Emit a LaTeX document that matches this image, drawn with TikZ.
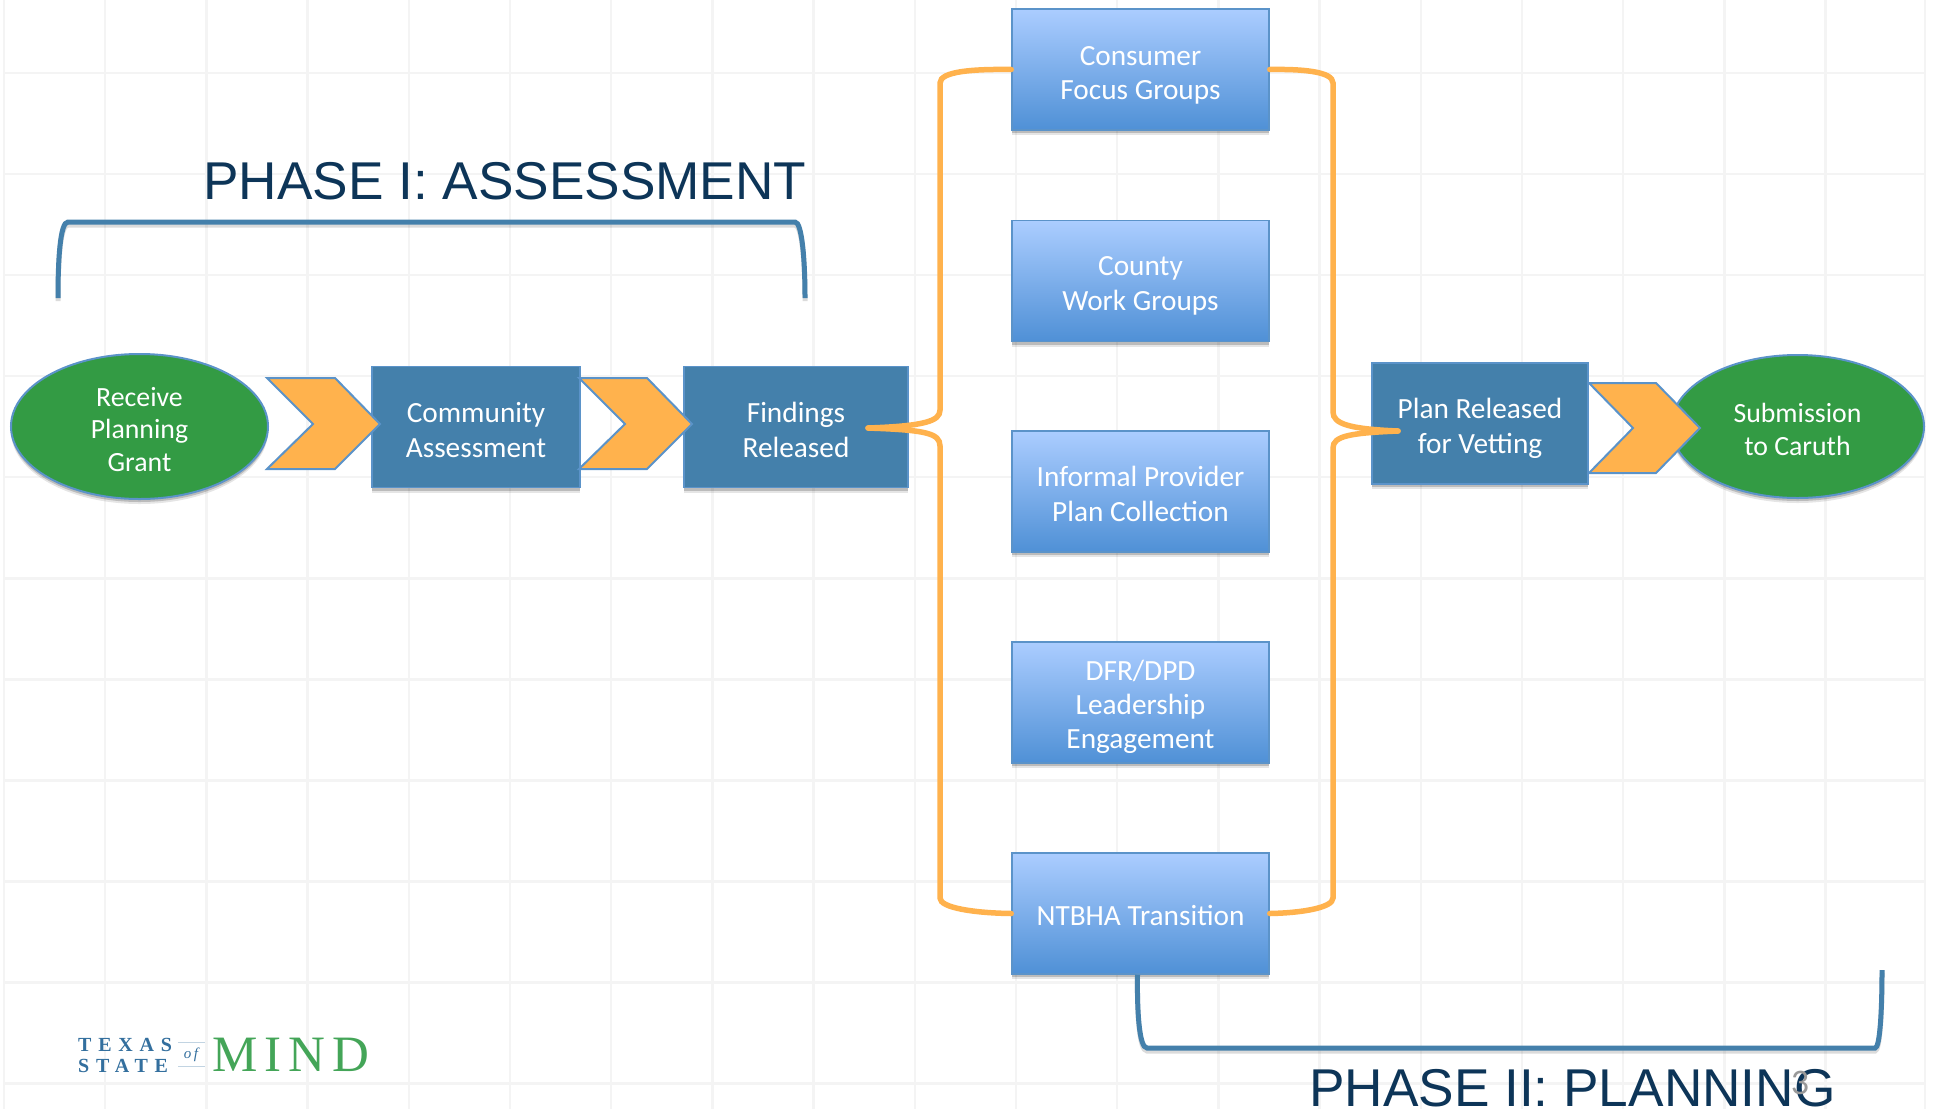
\documentclass[tikz,border=0pt]{standalone}
\usepackage{fontspec}
\setmainfont{Carlito}
\newfontfamily\titlefont{Liberation Sans}
\newfontfamily\logotight[LetterSpace=34]{Liberation Serif}
\newfontfamily\logomind[LetterSpace=14]{Liberation Serif}
\newfontfamily\logoof{Liberation Serif}
\usetikzlibrary{shapes.geometric,shadows,calc}
\definecolor{gridc}{HTML}{F4F4F4}
\definecolor{boxc}{HTML}{4480AB}
\definecolor{edgec}{HTML}{5B93C9}
\definecolor{greenc}{HTML}{339B44}
\definecolor{orangec}{HTML}{FFB24D}
\definecolor{navyc}{HTML}{0D3558}
\definecolor{logob}{HTML}{336F9E}
\definecolor{logog}{HTML}{44A558}
\definecolor{gradtop}{HTML}{ABCDFF}
\definecolor{gradbot}{HTML}{4F90D6}
\newcommand{\nudge}[1]{\rule{0pt}{#1pt}}
\tikzset{
  softshadow/.style={general shadow={shadow yshift=-3pt,shadow xshift=0pt,fill=black,opacity=.18},
                     general shadow={shadow yshift=-5pt,shadow xshift=0pt,fill=black,opacity=.10}},
  bodytext/.style={text=white,align=center,font=\fontsize{29.3}{34.3}\selectfont,inner sep=0pt},
  darkbox/.style={rectangle,draw=edgec,line width=1.5pt,fill=boxc,softshadow,bodytext},
  gradbox/.style={rectangle,draw=edgec,line width=1.5pt,top color=gradtop,bottom color=gradbot,softshadow,bodytext,
                  minimum width=257pt,minimum height=121pt},
  oval/.style={ellipse,draw=edgec,line width=2pt,fill=greenc,softshadow,bodytext,font=\fontsize{27.8}{32.7}\selectfont},
  chevron/.style={draw=edgec,line width=2pt,fill=orangec,line join=miter},
  brace/.style={draw=orangec,line width=5.5pt,line cap=round},
  bracket/.style={draw=boxc,line width=5pt,
    preaction={draw=black,opacity=.14,line width=5pt,transform canvas={yshift=-3pt}}},
  gridline/.style={draw=gridc,line width=2.5pt},
  bigtitle/.style={text=navyc,anchor=base west,inner sep=0pt,font=\titlefont\fontsize{53.2}{60}\selectfont},
}
\begin{document}
\begin{tikzpicture}[x=1pt,y=-1pt]
\useasboundingbox (0,0) rectangle (1933,1109);
\fill[white] (0,0) rectangle (1933,1109);
% grid
\foreach \k in {0,...,18} \draw[gridline] ({4+101.2*\k},0) -- ({4+101.2*\k},1109);
\draw[gridline] (1925,0) -- (1925,1109);
\foreach \k in {0,...,10} \draw[gridline] (4,{73+101.05*\k}) -- (1925,{73+101.05*\k});

% orange coordinates
\coordinate (ltip) at (868,428);
\coordinate (rtip) at (1398,431);

% nodes
\node[oval,minimum width=257pt,minimum height=145pt] (rp) at (139.5,426.5) {\nudge{25}Receive\\Planning\\Grant};
\node[darkbox,minimum width=208pt,minimum height=121pt] (ca) at (476,427) {\nudge{26}Community\\Assessment};
\node[darkbox,minimum width=224pt,minimum height=121pt] (fr) at (796,427) {\nudge{26}Findings\\Released};
\node[gradbox] (cg) at (1140.5,69.5) {\nudge{31}Consumer\\Focus Groups};
\node[gradbox] (wg) at (1140.5,281) {\nudge{29}County\\Work Groups};
\node[gradbox] (ip) at (1140.5,491.5) {\nudge{25}Informal Provider\\Plan Collection};
\node[gradbox] (dl) at (1140.5,702.5) {\nudge{29}DFR/DPD\\Leadership\\Engagement};
\node[gradbox] (nt) at (1140.5,913.5) {\nudge{24}NTBHA Transition};
\node[darkbox,minimum width=216pt,minimum height=121pt] (pr) at (1480,423.5) {\nudge{30}Plan Released\\for Vetting};
\node[oval,minimum width=253pt,minimum height=143pt] (sc) at (1797.5,426.5) {\nudge{25}Submission\\to Caruth};

% chevrons
\draw[chevron] (267,378) -- (335,378) -- (380,424) -- (335,469) -- (267,469) -- (313,424) -- cycle;
\draw[chevron] (579,378) -- (647,378) -- (692,424) -- (647,469) -- (579,469) -- (625,424) -- cycle;
\draw[chevron] (1589,383) -- (1656,383) -- (1700,428) -- (1656,473) -- (1589,473) -- (1633,428) -- cycle;

% orange braces
\draw[brace] (cg.west) .. controls (975,69) and (940,71) .. (940,83) -- (940,410)
   .. controls (940,421) and (925,426) .. (ltip);
\draw[brace] (ltip) .. controls (925,430) and (940,433) .. (940,446) -- (940,898)
   .. controls (940,908) and (975,913) .. (nt.west);
\draw[brace] (cg.east) .. controls (1300,69) and (1333,71) .. (1333,83) -- (1333,412)
   .. controls (1333,424) and (1350,429) .. (rtip);
\draw[brace] (rtip) .. controls (1350,433) and (1333,436) .. (1333,448) -- (1333,898)
   .. controls (1333,908) and (1300,913) .. (nt.east);

% phase brackets
\coordinate (p1a) at (58,298);
\coordinate (p1b) at (805,298);
\coordinate (p2b) at (1882,970);
\draw[bracket] (p1a) .. controls (58,260) and (60,222) .. (68,222) -- (795,222) .. controls (802,222) and (805,260) .. (p1b);
\draw[bracket] ([xshift=-3pt]nt.south) .. controls (1137,1010) and (1139,1048) .. (1147,1048) -- (1875,1048)
   .. controls (1880,1048) and (1882,1010) .. (p2b);

% titles
\node[bigtitle] (t1) at (203,199) {PHASE I: ASSESSMENT};
\node[bigtitle] (t2) at (1309,1106) {PHASE II: PLANNING};
\node[text=black!40,font=\fontsize{36}{36}\selectfont,inner sep=0pt] (pg) at (1800,1083) {3};

% logo
\node[anchor=base west,inner sep=0pt,text=logob,font=\logotight\bfseries\fontsize{20}{20}\selectfont] (l1) at (78,1051) {TEXAS};
\node[anchor=base west,inner sep=0pt,text=logob,font=\logotight\bfseries\fontsize{20}{20}\selectfont] (l2) at (78,1072) {STATE};
\draw[draw=logob!30,line width=1pt] (178,1042) -- (205,1042) (178,1066) -- (205,1066);
\node[inner sep=0pt,text=logob,font=\logoof\itshape\fontsize{15}{15}\selectfont] (l3) at (191,1055) {o\,f};
\node[anchor=base west,inner sep=0pt,text=logog,font=\logomind\fontsize{51}{51}\selectfont] (l4) at (212,1071) {MIND};
\end{tikzpicture}
\end{document}
